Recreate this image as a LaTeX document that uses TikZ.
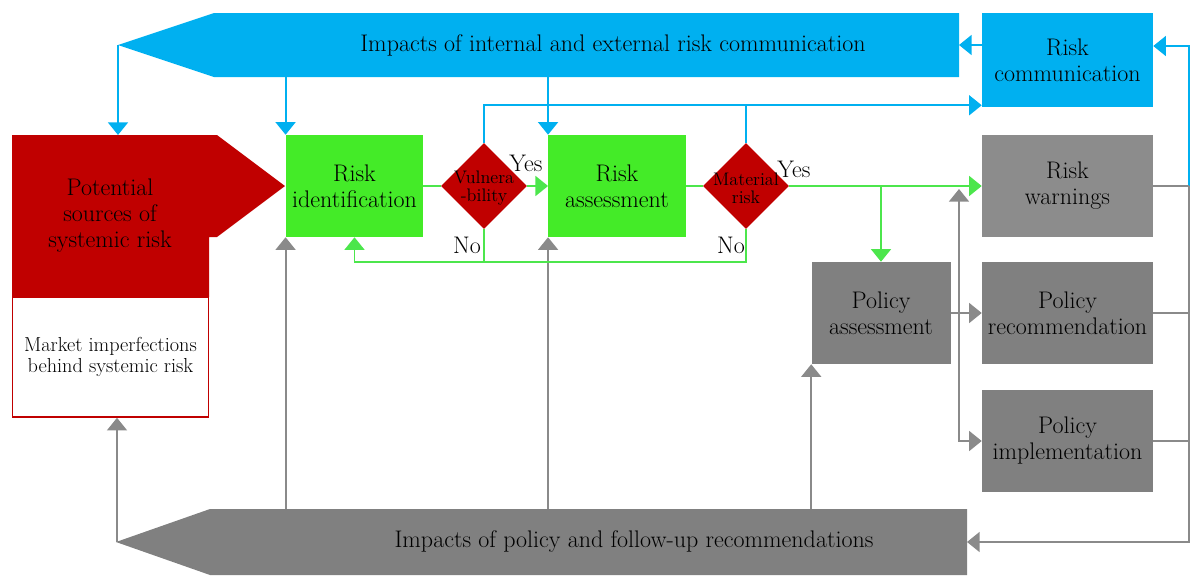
\documentclass[tikz,border=0pt]{standalone}
\usepackage{fontspec}
\usetikzlibrary{arrows.meta,shapes.geometric,calc}
\definecolor{cblue}{HTML}{00B0F0}
\definecolor{cgreen}{HTML}{44EB28}
\definecolor{cglin}{HTML}{4CE64C}
\definecolor{cred}{HTML}{C00000}
\definecolor{cgray}{HTML}{808080}
\definecolor{cgrayl}{HTML}{8C8C8C}
\definecolor{cgylin}{HTML}{8A8A8A}
\newcommand\mainf{\fontsize{18}{19.5}\selectfont}
\newcommand\smallf{\fontsize{15.2}{15.5}\selectfont}
\newcommand\diaf{\fontsize{13.6}{13.8}\selectfont}
\begin{document}
\begin{tikzpicture}[x=0.75pt,y=-0.75pt,
  box/.style={rectangle,inner sep=0pt,align=center,font=\mainf,minimum height=76.5pt},
  gbox/.style={box,fill=cgreen,minimum width=103pt},
  graybox/.style={box,fill=cgray,minimum width=128.25pt},
  dia/.style={diamond,fill=cred,inner sep=0pt,minimum width=64.5pt,minimum height=64.5pt},
  diatext/.style={align=center,font=\diaf,inner sep=0pt},
  lbl/.style={font=\mainf,inner sep=0pt},
  tipx/.tip={Triangle[length=9.5pt,width=15pt]},
  bline/.style={draw=cblue,line width=1.4pt},
  barr/.style={bline,-{tipx}},
  gline/.style={draw=cglin,line width=1.4pt},
  garr/.style={gline,-{tipx}},
  gyline/.style={draw=cgylin,line width=1.4pt},
  gyarr/.style={gyline,-{tipx}}]
\useasboundingbox (0,0) rectangle (1199,582);

% top blue bar
\fill[cblue] (118,45) -- (214,13) -- (959,13) -- (959,77) -- (214,77) -- cycle;
\node[lbl] (tbt) at (613,45) {Impacts of internal and external risk communication};
\coordinate (tbtip) at (118,45);
\coordinate (tbright) at (959,45);
\coordinate (tbbot) at (600,77);

% bottom gray bar
\fill[cgray] (116,542) -- (210,509) -- (967,509) -- (967,575) -- (210,575) -- cycle;
\node[lbl] (bbt) at (634,542) {Impacts of policy and follow-up recommendations};
\coordinate (bbtip) at (117,542);
\coordinate (bbright) at (967,542);
\coordinate (bbtop) at (600,509);

% red source shape
\fill[cred] (12,135) -- (217,135) -- (285,186) -- (217,237) -- (209,237) -- (209,297) -- (12,297) -- cycle;
\node[align=center,font=\mainf,inner sep=0pt] (ps) at (110,216) {Potential\\sources of\\systemic risk};
\coordinate (pstop) at (118,135);
\node[rectangle,draw=cred,fill=white,line width=1.2pt,minimum width=147pt,minimum height=90pt,align=center,font=\smallf,inner sep=0pt] (mi) at (110.5,357) {Market imperfections\\behind systemic risk};

% green boxes and diamonds
\node[gbox] (ri) at (354.5,186) {Risk\\identification};
\node[gbox] (ra) at (617,186) {Risk\\assessment};
\node[dia] (vul) at (484,186) {};
\node[diatext] (vult) at (484,188) {Vulnera\\-bility};
\node[dia] (mat) at (746,186) {};
\node[diatext] (matt) at (746,188) {Material\\risk};

% blue / gray boxes
\node[box,fill=cblue,minimum width=128.25pt,minimum height=70.5pt] (rc) at (1067.5,60) {Risk\\communication};
\node[graybox,fill=cgrayl] (rw) at (1067.5,186) {Risk\\warnings};
\node[graybox] (prec) at (1067.5,313) {Policy\\recommendation};
\node[graybox] (pimp) at (1067.5,441) {Policy\\implementation};
\node[box,fill=cgray,minimum width=104.25pt] (pa) at (881,313) {Policy\\assessment};

% labels
\node[lbl] (y1) at (526,163) {Yes};
\node[lbl] (n1) at (467,245) {No};
\node[lbl] (y2) at (794,169) {Yes};
\node[lbl] (n2) at (731,245) {No};

% blue connectors
\draw[barr] (tbtip) -- (pstop);
\draw[barr] (ri.north west |- tbbot) -- (ri.north west);
\draw[barr] (ra.north west |- tbbot) -- (ra.north west);
\draw[barr] (rc.west |- tbright) -- (tbright);
\coordinate (rcin) at ($(rc.south west)+(0,-2)$);
\draw[barr] (vul.north) |- (rcin);
\draw[bline] (mat.north) -- (mat.north |- rcin);
\coordinate (rr1) at (1189,186);
\coordinate (rcr) at (1189,46);
\draw[barr] (rr1) -- (rcr) -- (rcr -| rc.east);

% gray connectors
\draw[gyline] (rw.east) -- (rr1);
\draw[gyline] (prec.east) -- (prec.east -| rr1);
\draw[gyline] (pimp.east) -- (pimp.east -| rr1);
\draw[gyarr] (rr1) |- (bbright);
\draw[gyarr] (bbtip) -- (bbtip |- mi.south);
\draw[gyarr] (ri.south west |- bbtop) -- (ri.south west);
\draw[gyarr] (ra.south west |- bbtop) -- (ra.south west);
\draw[gyarr] (pa.south west |- bbtop) -- (pa.south west);
\draw[gyarr] (pa.east) -- (prec.west);
\coordinate (pj) at (959,313);
\coordinate (pup) at (959,189);
\draw[gyarr] (pa.east) -- (pj) |- (pimp.west);
\draw[gyarr] (pj) -- (pup);

% green connectors
\draw[gline] (ri.east) -- (vul.west);
\draw[garr] (vul.east) -- (ra.west);
\draw[gline] (ra.east) -- (mat.west);
\draw[garr] (mat.east) -- (rw.west);
\draw[garr] (pa.north |- mat.east) -- (pa.north);
\coordinate (nob) at (484,262);
\draw[garr] (vul.south) -- (nob) -| (ri.south);
\draw[gline] (mat.south) |- (nob);
\end{tikzpicture}
\end{document}
